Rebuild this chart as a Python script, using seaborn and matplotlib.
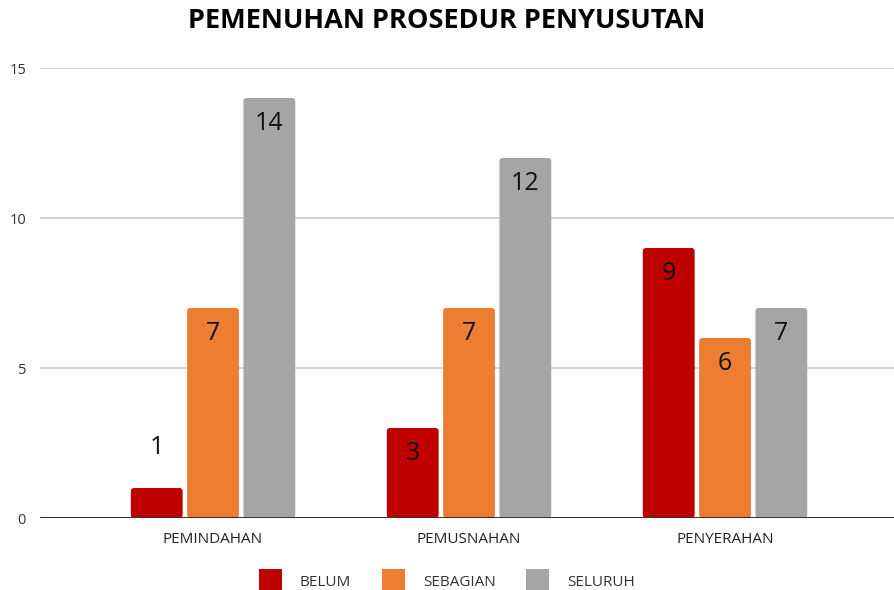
import matplotlib
matplotlib.use("Agg")
import matplotlib.pyplot as plt
from matplotlib.patches import FancyBboxPatch, Patch
import seaborn as sns
import pandas as pd

categories = ["PEMINDAHAN", "PEMUSNAHAN", "PENYERAHAN"]
series = ["BELUM", "SEBAGIAN", "SELURUH"]
belum = [1, 3, 9]
sebagian = [7, 7, 6]
seluruh = [14, 12, 7]
colors = ["#C00000", "#ED7D31", "#A5A5A5"]
yticks = [0, 5, 10, 15]
title = "PEMENUHAN PROSEDUR PENYUSUTAN"

df = pd.DataFrame({
    "kategori": categories * 3,
    "status": [s for s in series for _ in categories],
    "jumlah": belum + sebagian + seluruh,
})

sns.set_theme(style="white")
plt.rcParams["font.family"] = ["Open Sans", "DejaVu Sans"]

W, H = 894, 590
fig = plt.figure(figsize=(W / 100, H / 100), dpi=100)
ax = fig.add_axes([40 / W, 1 - 518 / H, 1 - 40 / W, (518 - 68) / H])

sns.barplot(data=df, x="kategori", y="jumlah", hue="status",
            order=categories, hue_order=series, palette=colors,
            saturation=1, width=0.66, gap=0.08, errorbar=None,
            legend=False, ax=ax, zorder=3)

ax.set_xlim(-0.676, 2.66)
ax.set_ylim(0, 15)

# swap the plain rectangles for bars with softly rounded corners
px_x = (2.66 + 0.676) / (W - 40)
px_y = 15 / 450
bars = [p for p in ax.patches]
for p in bars:
    x0, y0 = p.get_x(), p.get_y()
    w, h = p.get_width(), p.get_height()
    fc = p.get_facecolor()
    p.remove()
    fb = FancyBboxPatch((x0, y0), w, h,
                        boxstyle=f"round,pad=0,rounding_size={3 * px_x}",
                        mutation_aspect=px_y / px_x,
                        facecolor=fc, edgecolor="none", zorder=3)
    ax.add_patch(fb)
    val = y0 + h
    cx = x0 + w / 2
    if h * 30 < 40:
        ax.text(cx, val + 41 * px_y, f"{val:g}", ha="center", va="center",
                fontsize=18, color="#111111", zorder=4)
    else:
        ax.text(cx, val - 25 * px_y, f"{val:g}", ha="center", va="center",
                fontsize=18, color="#111111", zorder=4)

for s in ax.spines.values():
    s.set_visible(False)
ax.set_yticks(yticks)
ax.yaxis.grid(True, color="#d3d3d3", linewidth=1.5, zorder=0)
ax.axhline(0, color="#333333", linewidth=2.2, zorder=5)
ax.tick_params(axis="y", length=0, pad=10, labelsize=10.5, labelcolor="#333333")
ax.tick_params(axis="x", length=0, pad=10, labelsize=11, labelcolor="#222222")
ax.set_xlabel("")
ax.set_ylabel("")

fig.text(0.5, 1 - 21 / H, title, ha="center", va="center",
         fontsize=19.5, fontweight="bold", color="#000000")

handles = [Patch(facecolor=c, edgecolor="none") for c in colors]
fig.legend(handles, series, loc="center", bbox_to_anchor=(0.5, 1 - 581 / H),
           ncol=3, frameon=False, fontsize=11, handlelength=1.5,
           handleheight=2.0, handletextpad=1.2, columnspacing=2.0,
           labelcolor="#333333")

fig.savefig("out.png", dpi=100)
